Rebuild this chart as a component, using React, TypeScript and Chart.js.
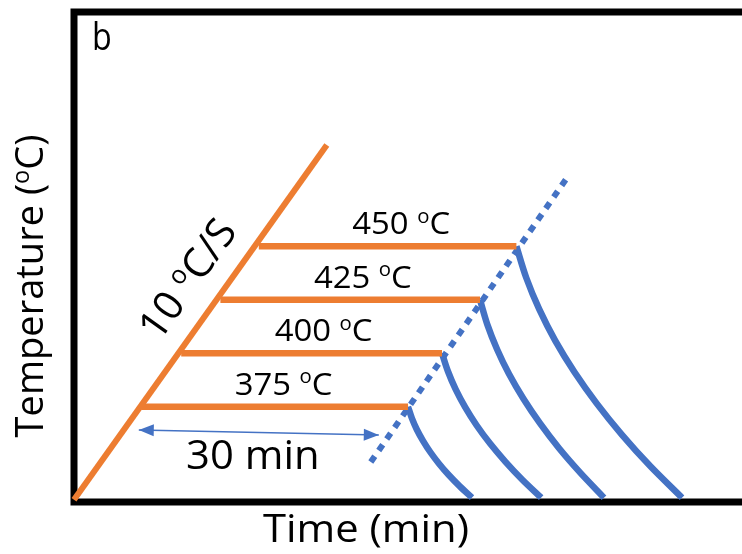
import { useEffect, useRef } from "react";
import { Chart, registerables } from "chart.js";

Chart.register(...registerables);

const FONT = '"Open Sans", "Noto Sans", sans-serif';
const ORANGE = "#ED7D31";
const BLUE = "#4472C4";

// Axis ranges: time (min) and temperature (°C)
const timeRange = [0, 83.5];
const tempRange = [330.5, 559.5];

// Heating ramp
const rampTime = [0, 31.6];
const rampTemp = [331.5, 497.3];

// Isothermal holds
const holdTemps = [375, 400, 425, 450];
const holdStart = [8.4, 13.4, 18.3, 23.1];
const holdEnd = [41.75, 46.0, 50.75, 55.3];

// Quench curves after each hold
const quenchTime = [
  [41.75, 42.23, 42.85, 43.63, 44.55, 45.63, 46.85, 48.23, 49.75],
  [46.0, 46.74, 47.71, 48.91, 50.34, 52.01, 53.91, 56.04, 58.4],
  [50.75, 51.67, 52.88, 54.38, 56.18, 58.26, 60.63, 63.3, 66.25],
  [55.3, 56.53, 58.15, 60.15, 62.55, 65.33, 68.5, 72.05, 76.0],
];
const quenchTemp = [
  [375, 369.7, 364.4, 359.1, 353.75, 348.4, 343.1, 337.8, 332.5],
  [400, 391.6, 383.1, 374.7, 366.25, 357.8, 349.4, 340.9, 332.5],
  [425, 413.4, 401.9, 390.3, 378.75, 367.2, 355.6, 344.1, 332.5],
  [450, 435.3, 420.6, 405.9, 391.25, 376.6, 361.9, 347.2, 332.5],
];

// End-of-hold boundary
const boundaryTime = [37.1, 61.6];
const boundaryTemp = [349.2, 481.9];

// 30 min span marker
const spanTime = [8.1, 38.1];
const spanTemp = [364.15, 361.8];
const spanLabel = "30 min";

type Part = { t: string; sup?: boolean };

function drawRich(
  ctx: CanvasRenderingContext2D,
  parts: Part[],
  x: number,
  y: number,
  size: number,
  angle = 0,
  align: "center" | "left" = "center",
  stretch = 1
) {
  ctx.save();
  ctx.translate(x, y);
  if (angle) ctx.rotate(angle);
  ctx.scale(stretch, 1);
  const supSize = size * 0.62;
  const widths = parts.map((p) => {
    ctx.font = `${p.sup ? supSize : size}px ${FONT}`;
    return ctx.measureText(p.t).width;
  });
  const total = widths.reduce((a, b) => a + b, 0);
  let cx = align === "center" ? -total / 2 : 0;
  ctx.textAlign = "left";
  ctx.textBaseline = "alphabetic";
  ctx.fillStyle = "#000";
  parts.forEach((p, i) => {
    ctx.font = `${p.sup ? supSize : size}px ${FONT}`;
    ctx.fillText(p.t, cx, p.sup ? -size * 0.37 : 0);
    cx += widths[i];
  });
  ctx.restore();
}

const framePlugin = {
  id: "frame",
  beforeDatasetsDraw(chart: any) {
    const { ctx, chartArea } = chart;
    ctx.save();
    ctx.strokeStyle = "#000";
    ctx.lineWidth = 7;
    ctx.lineJoin = "miter";
    ctx.beginPath();
    ctx.moveTo(chart.width + 10, chartArea.top);
    ctx.lineTo(chartArea.left, chartArea.top);
    ctx.lineTo(chartArea.left, chartArea.bottom);
    ctx.lineTo(chart.width + 10, chartArea.bottom);
    ctx.stroke();
    ctx.restore();
  },
};

const annotationPlugin = {
  id: "annotations",
  afterDatasetsDraw(chart: any) {
    const { ctx, scales } = chart;
    const xs = scales.x;
    const ys = scales.y;
    const px = (t: number) => xs.getPixelForValue(t);
    const py = (v: number) => ys.getPixelForValue(v);

    // arrow heads on the span marker
    const x0 = px(spanTime[0]);
    const y0 = py(spanTemp[0]);
    const x1 = px(spanTime[1]);
    const y1 = py(spanTemp[1]);
    const ang = Math.atan2(y1 - y0, x1 - x0);
    const head = (x: number, y: number, a: number) => {
      ctx.save();
      ctx.translate(x, y);
      ctx.rotate(a);
      ctx.fillStyle = BLUE;
      ctx.beginPath();
      ctx.moveTo(0, 0);
      ctx.lineTo(-15, -6);
      ctx.lineTo(-15, 6);
      ctx.closePath();
      ctx.fill();
      ctx.restore();
    };
    head(x1, y1, ang);
    head(x0, y0, ang + Math.PI);

    // hold temperature labels
    holdTemps.forEach((T, i) => {
      const cx = px(holdStart[i] + 17.8);
      const by = py(T) - 12;
      drawRich(ctx, [{ t: `${T} ` }, { t: "o", sup: true }, { t: "C" }], cx, by, 31, 0, "center", 1.06);
    });

    // span label
    drawRich(ctx, [{ t: spanLabel }], (x0 + x1) / 2 - 6, y0 + 39, 41, 0, "center", 1.02);

    // heating rate along the ramp
    const rx0 = px(rampTime[0]);
    const ry0 = py(rampTemp[0]);
    const rx1 = px(rampTime[1]);
    const ry1 = py(rampTemp[1]);
    const rampAng = Math.atan2(ry1 - ry0, rx1 - rx0);
    drawRich(
      ctx,
      [{ t: "10 " }, { t: "o", sup: true }, { t: "C/S" }],
      px(15.6),
      py(431),
      41,
      rampAng,
      "center"
    );

    // axis titles and panel letter
    drawRich(ctx, [{ t: "Time (min)" }], 366, 542, 38, 0, "center", 1.1);
    drawRich(
      ctx,
      [{ t: "Temperature (" }, { t: "o", sup: true }, { t: "C)" }],
      43,
      286,
      38,
      -Math.PI / 2
    );
    drawRich(ctx, [{ t: "b" }], 92, 50, 38, 0, "left", 0.85);
  },
};

function line(xs: number[], ys: number[], color: string, width: number, extra: any = {}) {
  return {
    data: xs.map((x, i) => ({ x, y: ys[i] })),
    borderColor: color,
    borderWidth: width,
    showLine: true,
    pointRadius: 0,
    fill: false,
    clip: false,
    borderCapStyle: "butt",
    borderJoinStyle: "round",
    ...extra,
  };
}

export default function App() {
  const ref = useRef<HTMLCanvasElement>(null);

  useEffect(() => {
    if (!ref.current) return;
    const datasets: any[] = [];
    datasets.push(line(rampTime, rampTemp, ORANGE, 6));
    holdTemps.forEach((T, i) => {
      datasets.push(line([holdStart[i], holdEnd[i]], [T, T], ORANGE, 6.5));
    });
    datasets.push(line(boundaryTime, boundaryTemp, BLUE, 6, { borderDash: [7, 7] }));
    quenchTime.forEach((ts, i) => {
      datasets.push(line(ts, quenchTemp[i], BLUE, 6.5, { tension: 0.3 }));
    });
    datasets.push(line(spanTime, spanTemp, BLUE, 1.5));

    const chart = new Chart(ref.current, {
      type: "scatter",
      data: { datasets },
      options: {
        responsive: false,
        animation: false,
        events: [],
        layout: { padding: { left: 74, top: 12, right: 0, bottom: 52 } },
        scales: {
          x: { type: "linear", display: false, min: timeRange[0], max: timeRange[1] },
          y: { type: "linear", display: false, min: tempRange[0], max: tempRange[1] },
        },
        plugins: {
          legend: { display: false },
          tooltip: { enabled: false },
        },
      },
      plugins: [framePlugin, annotationPlugin],
    });
    return () => chart.destroy();
  }, []);

  return (
    <div style={{ position: "fixed", left: 0, top: 0, width: 742, height: 554, background: "#fff" }}>
      <canvas ref={ref} width={742} height={554} style={{ display: "block" }} />
    </div>
  );
}
